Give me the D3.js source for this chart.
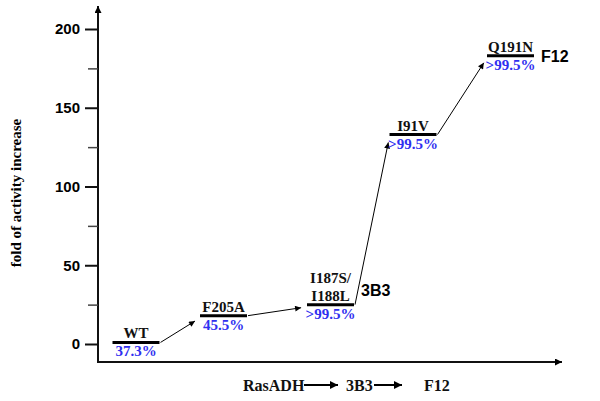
<!DOCTYPE html>
<html><head><meta charset="utf-8">
<script src="https://cdn.jsdelivr.net/npm/d3@7"></script>
<style>body{margin:0;background:#fff}svg{display:block}</style>
</head><body>
<svg id="c" width="600" height="401"></svg>
<script>
const variants = ["WT", "F205A", "I187S/I188L", "I91V", "Q191N"];
const nameLines = [["WT"], ["F205A"], ["I187S/", "I188L"], ["I91V"], ["Q191N"]];
const foldIncrease = [1, 18, 25, 133, 183];
const eeLabels = ["37.3%", "45.5%", ">99.5%", ">99.5%", ">99.5%"];
const groupLabels = ["", "", "3B3", "", "F12"];
const yTicks = [0, 50, 100, 150, 200];
const yMinorTicks = [25, 75, 125, 175];
const pathway = ["RasADH", "3B3", "F12"];

const svg = d3.select("#c");
const defs = svg.append("defs");
function marker(id, w, h) {
  defs.append("marker").attr("id", id).attr("viewBox", "0 0 10 10")
    .attr("refX", 10).attr("refY", 5).attr("markerUnits", "userSpaceOnUse")
    .attr("markerWidth", w).attr("markerHeight", h).attr("orient", "auto")
    .append("path").attr("d", "M0,0L10,5L0,10z").attr("fill", "#000");
}
marker("ah", 7, 6);
marker("ax", 7, 7);
marker("big", 9, 8);

const y = d3.scaleLinear().domain([0, 200]).range([344, 29]);
// step positions along the evolutionary path (polylinear over step index)
const xi = d3.scaleLinear().domain([0, 1, 2, 3, 4]).range([136, 223.5, 330.5, 413, 510.5]);
const x = v => xi(variants.indexOf(v));
const axisX = 98, axisY = 362;
const barW = 47;

svg.append("line").attr("x1", axisX).attr("x2", axisX).attr("y1", axisY + 1).attr("y2", 6)
  .attr("stroke", "#111").attr("stroke-width", 2).attr("marker-end", "url(#ax)");
svg.append("line").attr("x1", axisX - 1).attr("x2", 562).attr("y1", axisY).attr("y2", axisY)
  .attr("stroke", "#111").attr("stroke-width", 2).attr("marker-end", "url(#ax)");

const yAxis = d3.axisLeft(y).tickValues(yTicks).tickSize(13).tickPadding(5).tickFormat(d3.format("d"));
const gy = svg.append("g").attr("transform", `translate(${axisX},0)`).call(yAxis);
gy.select(".domain").remove();
gy.selectAll(".tick line").attr("stroke", "#111").attr("stroke-width", 2);
gy.selectAll(".tick text").attr("font-family", "Liberation Sans, Arial, sans-serif")
  .attr("font-weight", "bold").attr("font-size", 15).attr("fill", "#000");
const yMinor = d3.axisLeft(y).tickValues(yMinorTicks).tickSize(10).tickFormat("");
const gm = svg.append("g").attr("transform", `translate(${axisX},0)`).call(yMinor);
gm.select(".domain").remove();
gm.selectAll(".tick line").attr("stroke", "#444").attr("stroke-width", 1.5);

const serif = "Liberation Serif, Times New Roman, serif";
svg.append("text").attr("transform", "translate(21,193) rotate(-90)")
  .attr("text-anchor", "middle").attr("font-family", serif)
  .attr("font-weight", "bold").attr("font-size", 15).text("fold of activity increase");

const steps = variants.map((v, i) => ({v, i, val: foldIncrease[i], lines: nameLines[i], ee: eeLabels[i], grp: groupLabels[i]}));
svg.selectAll(".bar").data(steps).enter().append("line")
  .attr("x1", d => x(d.v) - barW / 2).attr("x2", d => x(d.v) + barW / 2)
  .attr("y1", d => y(d.val)).attr("y2", d => y(d.val))
  .attr("stroke", "#000").attr("stroke-width", 3);

for (let i = 0; i < steps.length - 1; i++) {
  const a = steps[i], b = steps[i + 1];
  const x1 = x(a.v) + barW / 2 + 1, y1 = y(a.val);
  const tx = x(b.v) - barW / 2, ty = y(b.val);
  const dx = tx - x1, dy = ty - y1, L = Math.hypot(dx, dy);
  const s = (L - 6) / L;
  svg.append("line").attr("x1", x1).attr("y1", y1)
    .attr("x2", x1 + dx * s).attr("y2", y1 + dy * s + 2)
    .attr("stroke", "#000").attr("stroke-width", 1).attr("marker-end", "url(#ah)");
}

steps.forEach(d => {
  const by = y(d.val);
  const n = d.lines.length;
  d.lines.forEach((t, k) => {
    svg.append("text").attr("x", x(d.v)).attr("y", by - 4 - (n - 1 - k) * 18)
      .attr("text-anchor", "middle").attr("font-family", serif).attr("font-weight", "bold")
      .attr("font-size", 15).attr("fill", "#111").text(t);
  });
  svg.append("text").attr("x", x(d.v)).attr("y", by + 14)
    .attr("text-anchor", "middle").attr("font-family", serif).attr("font-weight", "bold")
    .attr("font-size", 15).attr("fill", "#2f2ff0").text(d.ee);
  if (d.grp) {
    const off = d.lines.length > 1 ? -9 : 6;
    svg.append("text").attr("x", x(d.v) + barW / 2 + 7).attr("y", by + off)
      .attr("font-family", "Liberation Sans, Arial, sans-serif").attr("font-weight", "bold")
      .attr("font-size", 16).attr("fill", "#000").text(d.grp);
  }
});

const px = [243, 346, 424];
const pg = svg.append("g");
pathway.forEach((t, i) => {
  pg.append("text").attr("x", px[i]).attr("y", 391).attr("font-family", serif)
    .attr("font-weight", "bold").attr("font-size", 16).attr("fill", "#111").text(t);
});
[[304, 338], [374, 402]].forEach(([a, b]) => {
  pg.append("line").attr("x1", a).attr("x2", b).attr("y1", 385).attr("y2", 385)
    .attr("stroke", "#000").attr("stroke-width", 2).attr("marker-end", "url(#big)");
});
</script>
</body></html>
